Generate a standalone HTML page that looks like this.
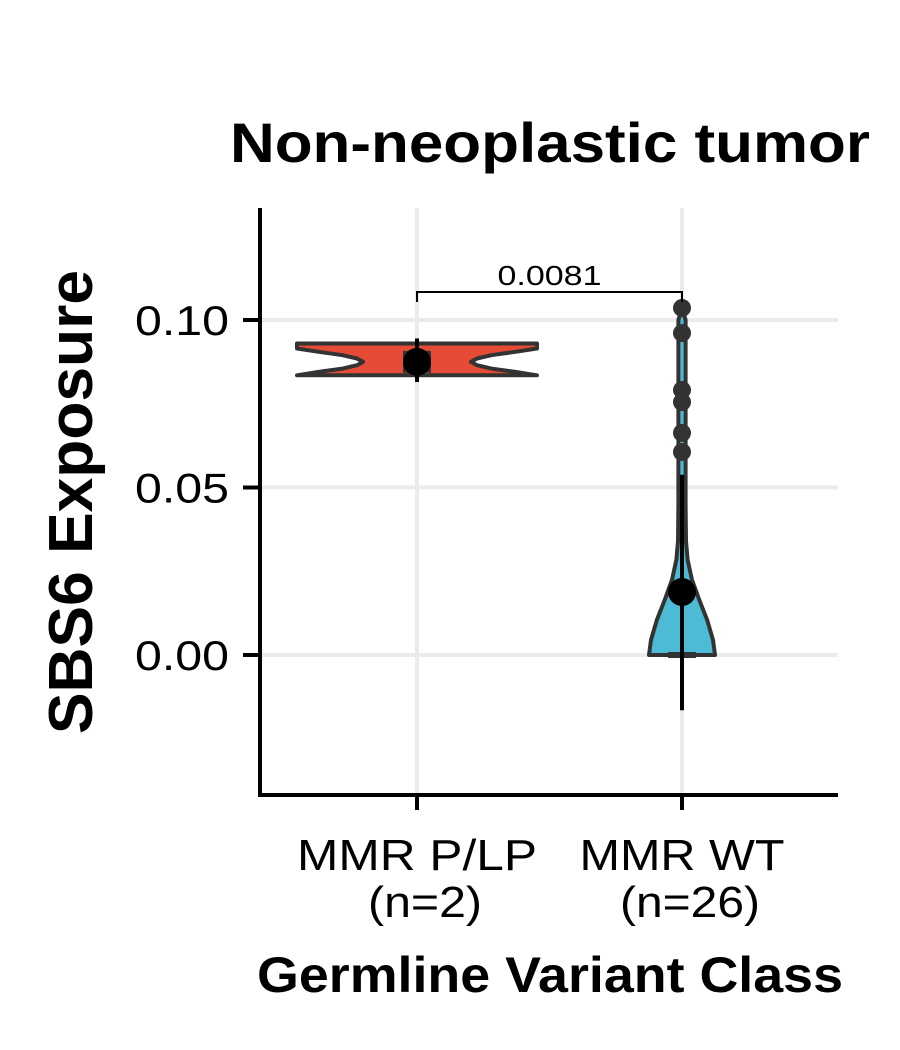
<!DOCTYPE html>
<html><head><meta charset="utf-8"><style>
html,body{margin:0;padding:0;background:#fff}
svg{display:block}
text{font-family:"Liberation Sans",Arial,sans-serif}
</style></head><body>
<svg id="chart" width="900" height="1050" viewBox="0 0 900 1050">
<text x="550" y="162" font-size="56" font-weight="bold" text-anchor="middle" textLength="640" lengthAdjust="spacingAndGlyphs">Non-neoplastic tumor</text>
<g id="grid"></g>
<g id="marks"></g>
<g id="axes"></g>
<text transform="translate(92,502) rotate(-90)" font-size="62" font-weight="bold" text-anchor="middle" textLength="464" lengthAdjust="spacingAndGlyphs">SBS6 Exposure</text>
<text x="550" y="992" font-size="50" font-weight="bold" text-anchor="middle" textLength="586" lengthAdjust="spacingAndGlyphs">Germline Variant Class</text>
</svg>
<script>
const categories = ["MMR P/LP", "MMR WT"];
const counts = [2, 26];
const yTicks = [0, 0.05, 0.10];
const yTickLabels = ["0.00", "0.05", "0.10"];
const pValueLabel = "0.0081";
// violin density profiles: value levels and relative half-widths (0..1)
const violinLevels1 = [0.0835, 0.0845, 0.0855, 0.0865, 0.0875, 0.0885, 0.0895, 0.0905, 0.0915, 0.093];
const violinWidths1 = [1.0, 0.82, 0.62, 0.5, 0.45, 0.5, 0.62, 0.82, 1.0, 1.0];
const violinLevels2 = [0, 0.0045, 0.0105, 0.0165, 0.0225, 0.0285, 0.034, 0.045, 0.06, 0.08, 0.1, 0.1036];
const violinWidths2 = [1.0, 0.94, 0.76, 0.52, 0.30, 0.17, 0.12, 0.11, 0.11, 0.11, 0.11, 0.0];
const outliers2 = [0.1036, 0.0961, 0.0791, 0.0755, 0.0663, 0.0606];
const means = [0.0875, 0.0188];
const errLow = [0.0815, -0.0165];
const errHigh = [0.0945, 0.0538];
const medians = [0.0875, 0.0];
const maxHalfWidth = [120, 33];

const NS = "http://www.w3.org/2000/svg";
const y = v => 655 - (v / 0.05) * 167.5;
const x = i => [417, 682][i];
function mk(tag, attrs, parent) {
  const e = document.createElementNS(NS, tag);
  for (const k in attrs) e.setAttribute(k, attrs[k]);
  parent.appendChild(e); return e;
}
const grid = document.getElementById('grid');
const marks = document.getElementById('marks');
const axes = document.getElementById('axes');
yTicks.forEach((t, i) => {
  const g = mk('line', {x1: 260, x2: 838, y1: y(t), y2: y(t), stroke: '#ebebeb', 'stroke-width': 4}, grid);
  
  
  const tk = mk('line', {x1: 243, x2: 260, y1: y(t), y2: y(t), stroke: '#000', 'stroke-width': 4}, axes);
  
  
  const tl = mk('text', {x: 229, y: y(t) + 15, 'font-size': 42, 'text-anchor': 'end', textLength: 94, lengthAdjust: 'spacingAndGlyphs'}, axes);
  tl.textContent = yTickLabels[i];
  
  
});
categories.forEach((c, i) => {
  const g = mk('line', {x1: x(i), x2: x(i), y1: 208, y2: 795, stroke: '#ebebeb', 'stroke-width': 4}, grid);
  
  
  const tk = mk('line', {x1: x(i), x2: x(i), y1: 795, y2: 810, stroke: '#000', 'stroke-width': 4}, axes);
  
  
  const t1 = mk('text', {x: x(i), y: 870, 'font-size': 44, 'text-anchor': 'middle', textLength: [240, 205][i], lengthAdjust: 'spacingAndGlyphs'}, axes);
  t1.textContent = c;
  
  
  const t2 = mk('text', {x: x(i) + 8, y: 917, 'font-size': 44, 'text-anchor': 'middle', textLength: [114, 140][i], lengthAdjust: 'spacingAndGlyphs'}, axes);
  t2.textContent = '(n=' + counts[i] + ')';
  
  
});
const ax = mk('path', {d: 'M260 208 V795 H838', fill: 'none', stroke: '#000', 'stroke-width': 4}, axes);



function violin(i, levels, widths, fill) {
  const cx = x(i), w = maxHalfWidth[i];
  let right = levels.map((v, k) => [cx + widths[k] * w, y(v)]);
  let left = levels.map((v, k) => [cx - widths[k] * w, y(v)]).reverse();
  const pts = right.concat(left);
  const p = mk('path', {d: 'M' + pts.map(p => p[0].toFixed(1) + ' ' + p[1].toFixed(1)).join(' L') + ' Z', fill: fill, stroke: '#333', 'stroke-width': 4, 'stroke-linejoin': 'round'}, marks);
  
  
}
violin(0, violinLevels1, violinWidths1, '#e64b35');
violin(1, violinLevels2, violinWidths2, '#4dbbd5');

categories.forEach((c, i) => {
  const md = mk('rect', {x: x(i) - 14, y: y(medians[i]) - (i === 0 ? 11 : 3), width: 28, height: i === 0 ? 22 : 6, fill: '#333'}, marks);
  
  
});
outliers2.forEach(v => {
  const o = mk('circle', {cx: x(1), cy: y(v), r: 9, fill: '#333'}, marks);
  
  
});
categories.forEach((c, i) => {
  const e = mk('line', {x1: x(i), x2: x(i), y1: y(errHigh[i]), y2: y(errLow[i]), stroke: '#000', 'stroke-width': 4}, marks);
  
  
  const m = mk('circle', {cx: x(i), cy: y(means[i]), r: 14, fill: '#000'}, marks);
  
  
});
const br = mk('path', {d: `M${x(0)} 302 V292 H${x(1)} V302`, fill: 'none', stroke: '#000', 'stroke-width': 2}, marks);


const pv = mk('text', {x: (x(0) + x(1)) / 2, y: 285, 'font-size': 28, 'text-anchor': 'middle', textLength: 104, lengthAdjust: 'spacingAndGlyphs'}, marks);
pv.textContent = pValueLabel;


</script>
</body></html>
